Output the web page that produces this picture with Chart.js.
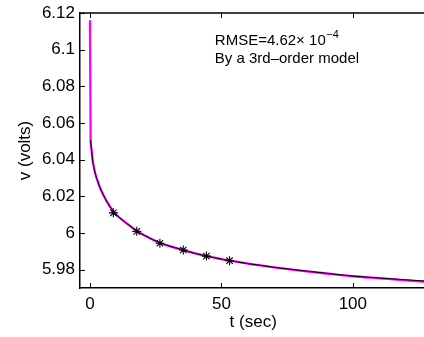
<!DOCTYPE html>
<html>
<head>
<meta charset="utf-8">
<script src="https://cdn.jsdelivr.net/npm/chart.js@4.4.1/dist/chart.umd.min.js"></script>
<style>
  html, body { margin: 0; padding: 0; background: #fff; overflow: hidden; }
  #wrap { width: 424px; height: 337px; overflow: hidden; position: relative; }
  canvas { display: block; }
</style>
</head>
<body>
<div id="wrap"><canvas id="c" width="432" height="337"></canvas></div>
<script>
// ---- data ----
const measuredT = [0, 0.25, 0.5, 1, 1.5, 2, 2.8, 3.8, 5, 6.5, 8, 10, 12.5, 15, 17.8, 21, 24, 27, 30, 35, 40, 45, 50, 55, 60, 70, 80, 90, 100, 110, 120, 128];
const measuredV = [6.116, 6.051, 6.0465, 6.0398, 6.0358, 6.0325, 6.0288, 6.0248, 6.0210, 6.0170, 6.0136, 6.0100, 6.0069, 6.0041, 6.0011, 5.9985, 5.9963, 5.9944, 5.9930, 5.9909, 5.9889, 5.9872, 5.9857, 5.9845, 5.9833, 5.9813, 5.9795, 5.9779, 5.9764, 5.9753, 5.9742, 5.9734];
const modelT = [0.25, 0.5, 1, 1.5, 2, 2.8, 3.8, 5, 6.5, 8, 10, 12.5, 15, 17.8, 21, 24, 27, 30, 35, 40, 45, 50, 55, 60, 70, 80, 90, 100, 110, 120, 128];
const modelV = [6.0508, 6.0463, 6.0397, 6.0357, 6.0324, 6.0288, 6.0247, 6.0210, 6.0170, 6.0136, 6.0100, 6.0069, 6.0041, 6.0011, 5.9985, 5.9963, 5.9944, 5.9930, 5.9909, 5.9889, 5.9872, 5.9857, 5.9845, 5.9833, 5.9813, 5.9796, 5.9780, 5.9765, 5.9755, 5.9745, 5.9738];
const markerT = [8.9, 17.8, 26.6, 35.5, 44.3, 53.1];
const markerV = [6.0110, 6.0009, 5.9944, 5.9907, 5.9874, 5.9849];
const xTicks = [0, 50, 100];
const yTicks = [5.98, 6, 6.02, 6.04, 6.06, 6.08, 6.1, 6.12];
const xTitle = 't (sec)';
const yTitle = 'v (volts)';
const noteLine1 = 'RMSE=4.62\u00d7 10';
const noteSup = '\u22124';
const noteLine2 = 'By a 3rd\u2013order model';

const FONT = "'Liberation Sans', Arial, Helvetica, sans-serif";
const toXY = (xs, ys) => xs.map((x, i) => ({ x: x, y: ys[i] }));

const framePlugin = {
  id: 'frame',
  afterDraw(chart) {
    const ctx = chart.ctx;
    const a = chart.chartArea;
    const xs = chart.scales.x, ys = chart.scales.y;
    ctx.save();
    ctx.strokeStyle = '#000';
    ctx.lineWidth = 1.5;
    // top border
    ctx.beginPath();
    ctx.moveTo(a.left - 0.75, a.top);
    ctx.lineTo(a.right, a.top);
    ctx.stroke();
    // inward ticks
    ctx.lineWidth = 1;
    ctx.beginPath();
    xs.ticks.forEach(t => {
      const px = Math.round(xs.getPixelForValue(t.value)) + 0.5;
      ctx.moveTo(px, a.bottom); ctx.lineTo(px, a.bottom - 5);
      ctx.moveTo(px, a.top); ctx.lineTo(px, a.top + 5);
    });
    ys.ticks.forEach(t => {
      const py = Math.round(ys.getPixelForValue(t.value)) + 0.5;
      ctx.moveTo(a.left, py); ctx.lineTo(a.left + 5, py);
    });
    ctx.stroke();
    // annotation
    const tx = xs.getPixelForValue(47.5);
    const ty1 = ys.getPixelForValue(6.1025);
    const ty2 = ys.getPixelForValue(6.0927);
    ctx.fillStyle = '#000';
    ctx.textBaseline = 'alphabetic';
    ctx.textAlign = 'left';
    ctx.font = '15px ' + FONT;
    ctx.fillText(noteLine1, tx, ty1);
    const w = ctx.measureText(noteLine1).width;
    ctx.font = '11px ' + FONT;
    ctx.fillText(noteSup, tx + w + 0.5, ty1 - 7);
    ctx.font = '15px ' + FONT;
    ctx.fillText(noteLine2, tx, ty2);
    ctx.restore();
  }
};

new Chart(document.getElementById('c'), {
  type: 'scatter',
  data: {
    datasets: [
      {
        label: 'samples',
        data: toXY(markerT, markerV),
        showLine: false,
        pointStyle: 'star',
        pointRadius: 4.5,
        borderColor: '#000',
        backgroundColor: '#000',
        borderWidth: 1.1
      },
      {
        label: 'model',
        data: toXY(modelT, modelV),
        showLine: true,
        borderColor: '#000',
        borderWidth: 1,
        pointRadius: 0,
        cubicInterpolationMode: 'monotone'
      },
      {
        label: 'measured',
        data: toXY(measuredT, measuredV),
        showLine: true,
        borderColor: '#ff00ff',
        borderWidth: 2.3,
        pointRadius: 0,
        cubicInterpolationMode: 'monotone'
      }
    ]
  },
  options: {
    responsive: false,
    animation: false,
    devicePixelRatio: 1,
    layout: { padding: { top: 13, right: 2, left: 0, bottom: 0 } },
    plugins: { legend: { display: false }, tooltip: { enabled: false } },
    scales: {
      x: {
        type: 'linear',
        min: -3.8,
        max: 128,
        afterBuildTicks: s => { s.ticks = xTicks.map(v => ({ value: v })); },
        afterFit: s => { s.height = 49; s.paddingLeft = 0; s.paddingRight = 0; },
        grid: { display: false, drawTicks: false },
        border: { display: true, color: '#000', width: 1.5 },
        ticks: { color: '#000', padding: 6, font: { family: FONT, size: 17 }, maxRotation: 0, callback: v => String(v) },
        title: { display: true, text: xTitle, color: '#000', font: { family: FONT, size: 17 }, padding: { top: 4, bottom: 4 } }
      },
      y: {
        type: 'linear',
        min: 5.97,
        max: 6.12,
        afterBuildTicks: s => { s.ticks = yTicks.map(v => ({ value: v })); },
        afterFit: s => { s.width = 80; s.paddingTop = 0; s.paddingBottom = 0; },
        grid: { display: false, drawTicks: false },
        border: { display: true, color: '#000', width: 1.5 },
        ticks: { color: '#000', padding: 5, font: { family: FONT, size: 17 }, callback: v => String(+v.toFixed(2)) },
        title: { display: true, text: yTitle, color: '#000', font: { family: FONT, size: 17 }, padding: { top: 15, bottom: 15 } }
      }
    }
  },
  plugins: [framePlugin]
});
</script>
</body>
</html>
